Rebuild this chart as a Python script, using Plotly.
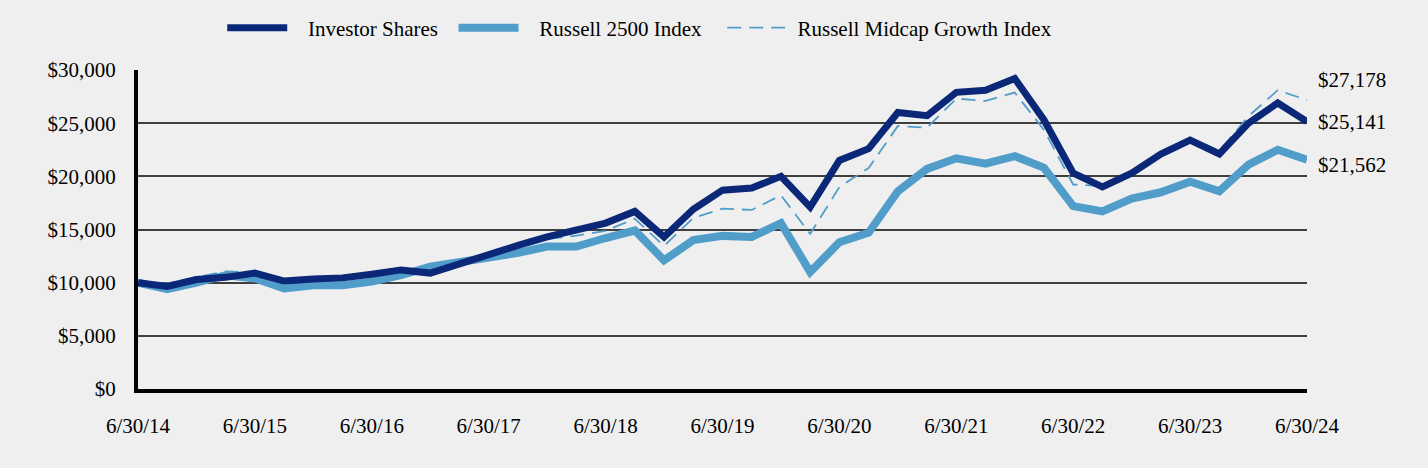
import plotly.graph_objects as go

# Quarter-end labels 6/30/14 ... 6/30/24
quarters = []
for yr in range(14, 25):
    for m, d in ((3, 31), (6, 30), (9, 30), (12, 31)):
        if (yr == 14 and m < 6) or (yr == 24 and m > 6):
            continue
        quarters.append(f"{m}/{d}/{yr}")

tick_labels = ["6/30/14", "6/30/15", "6/30/16", "6/30/17", "6/30/18", "6/30/19",
               "6/30/20", "6/30/21", "6/30/22", "6/30/23", "6/30/24"]

y_ticks = [0, 5000, 10000, 15000, 20000, 25000, 30000]
y_tick_text = ["$0", "$5,000", "$10,000", "$15,000", "$20,000", "$25,000", "$30,000"]

investor_shares = [10000, 9650, 10300, 10500, 10900, 10150, 10350, 10450, 10800, 11200,
                   10900, 11800, 12700, 13500, 14300, 15000, 15600, 16700, 14300, 16900,
                   18700, 18900, 20000, 17100, 21500, 22600, 26000, 25700, 27900, 28100,
                   29200, 25300, 20300, 19000, 20300, 22100, 23400, 22100, 25000, 26900,
                   25141]

russell_2500 = [10000, 9400, 10000, 10700, 10400, 9450, 9750, 9750, 10100, 10700,
                11500, 11900, 12300, 12800, 13400, 13400, 14200, 14900, 12100, 14000,
                14400, 14300, 15600, 11000, 13800, 14700, 18600, 20700, 21700, 21200,
                21900, 20800, 17200, 16700, 17900, 18500, 19500, 18600, 21100, 22500,
                21562]

midcap_growth = [10000, 9930, 10510, 11070, 10950, 10070, 10490, 10550, 10720, 11210,
                 11270, 12050, 12550, 13210, 14110, 14420, 14880, 16010, 13450, 16090,
                 16960, 16840, 18220, 14580, 19000, 20780, 24730, 24580, 27310, 27090,
                 27880, 24370, 19230, 19090, 20400, 22260, 23640, 22410, 25660, 28100,
                 27178]

end_labels = ["$27,178", "$25,141", "$21,562"]
end_values = [midcap_growth[-1], investor_shares[-1], russell_2500[-1]]
end_shifts = [20, 0, -5]

DARK = "#0B2878"
LIGHT = "#519DCA"
FONT = "Liberation Serif, Times New Roman, serif"
NB = "\u00a0"

fig = go.Figure()
fig.add_trace(go.Scatter(x=quarters, y=midcap_growth, mode="lines",
                         name=NB + "Russell Midcap Growth Index", legendrank=3,
                         line=dict(color=LIGHT, width=1.8, dash="14px,8px")))
fig.add_trace(go.Scatter(x=quarters, y=russell_2500, mode="lines",
                         name=NB * 3 + "Russell 2500 Index" + NB * 3, legendrank=2,
                         line=dict(color=LIGHT, width=8)))
fig.add_trace(go.Scatter(x=quarters, y=investor_shares, mode="lines",
                         name=NB * 3 + "Investor Shares" + NB * 2, legendrank=1,
                         line=dict(color=DARK, width=7)))

for lbl, v, s in zip(end_labels, end_values, end_shifts):
    fig.add_annotation(x=quarters[-1], y=v, text=lbl, showarrow=False,
                       xanchor="left", yanchor="middle", xshift=9, yshift=s,
                       font=dict(family=FONT, size=21, color="black"))

fig.update_layout(
    width=1428, height=468,
    margin=dict(l=138, r=121, t=70, b=79, autoexpand=False),
    paper_bgcolor="#EFEFEF", plot_bgcolor="#EFEFEF",
    font=dict(family=FONT, size=21, color="black"),
    showlegend=True,
    legend=dict(orientation="h", xref="container", yref="container",
                x=0.448, xanchor="center", y=1 - 28 / 468, yanchor="middle",
                font=dict(family=FONT, size=21), itemwidth=60,
                bgcolor="rgba(0,0,0,0)", traceorder="normal"),
)
fig.update_xaxes(type="category", range=[0, len(quarters) - 1],
                 tickmode="array", tickvals=tick_labels, ticktext=tick_labels,
                 showgrid=False, showline=True, linecolor="black", linewidth=4,
                 ticks="", ticklabelstandoff=15, zeroline=False)
fig.update_yaxes(range=[0, 30000], tickmode="array", tickvals=y_ticks, ticktext=y_tick_text,
                 showgrid=True, gridcolor="#3F3F3F",
                 gridwidth=2, showline=True, linecolor="black", linewidth=4,
                 ticks="", ticklabelstandoff=14, zeroline=False)

fig.write_html("out.html", config={"displayModeBar": False},
               post_script="document.body.style.margin='0';document.body.style.background='#EFEFEF';")
